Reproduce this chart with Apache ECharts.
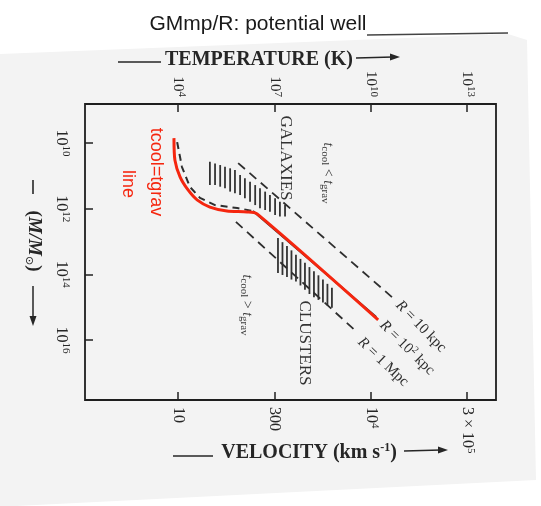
<!DOCTYPE html>
<html><head><meta charset="utf-8">
<script src="https://cdn.jsdelivr.net/npm/echarts@6/dist/echarts.min.js"></script>
<style>html,body{margin:0;padding:0;background:#fff}#c{width:541px;height:506px}</style>
</head><body><div id="c"></div>
<script>
// x = log10 T (K)  (bottom axis relabelled as velocity, T ∝ v²);  y = log10 (M / M_sun)
const tempTicks = [4, 7, 10, 13];
const tempTickLabels = ['10^4', '10^7', '10^10', '10^13'];
const velocityTickLabels = ['10', '300', '10^4', '3 × 10^5'];
const massTicks = [10, 12, 14, 16];
const massTickLabels = ['10^10', '10^12', '10^14', '10^16'];
const xRange = [1.10, 13.90];
const yRange = [8.81, 17.83];

// red annotated tcool = tgrav curve
const redCurveT = [3.87, 3.90, 4.06, 4.31, 4.59, 4.99, 5.52, 6.15, 6.46, 10.23];
const redCurveM = [9.85, 10.52, 11.03, 11.43, 11.73, 11.95, 12.07, 12.10, 12.16, 15.39];
// original dashed cooling curve
const coolCurveT = [3.97, 4.12, 4.37, 4.68, 5.15, 5.84, 6.33];
const coolCurveM = [9.97, 10.73, 11.34, 11.67, 11.89, 11.98, 12.07];
// R = 10^2 kpc (solid part under red line)
const r100T = [6.33, 10.17];
const r100M = [12.07, 15.30];
// R = 10 kpc
const r10T = [5.87, 10.76];
const r10M = [10.61, 14.78];
// R = 1 Mpc
const r1000T = [5.80, 9.57];
const r1000M = [12.40, 15.76];

// hatching: galaxies
const galaxyT = [4.99, 5.15, 5.31, 5.46, 5.62, 5.77, 5.93, 6.08, 6.24, 6.40, 6.55, 6.71, 6.86, 7.02, 7.17, 7.33];
const galaxyTop = [10.57, 10.62, 10.67, 10.72, 10.77, 10.82, 10.97, 11.07, 11.18, 11.28, 11.38, 11.48, 11.58, 11.68, 11.79, 11.89];
const galaxyBottom = [11.28, 11.28, 11.33, 11.38, 11.48, 11.53, 11.58, 11.68, 11.79, 11.89, 11.99, 12.04, 12.09, 12.19, 12.24, 12.24];
// hatching: clusters
const clusterT = [7.11, 7.25, 7.39, 7.53, 7.67, 7.81, 7.95, 8.09, 8.23, 8.37, 8.51, 8.65, 8.79];
const clusterTop = [12.89, 13.02, 13.14, 13.27, 13.40, 13.53, 13.65, 13.78, 13.91, 14.03, 14.16, 14.29, 14.41];
const clusterBottom = [13.96, 14.02, 14.08, 14.16, 14.22, 14.34, 14.47, 14.60, 14.70, 14.78, 14.86, 14.95, 15.02];

const SERIF = '"Liberation Serif","DejaVu Serif",serif';
const INK = '#262626';

function sup(label) {
  const i = label.indexOf('^');
  if (i < 0) return '{b|' + label + '}';
  return '{b|' + label.slice(0, i) + '}{s|' + label.slice(i + 1) + '}';
}
function richFor(size) {
  return {
    b: { fontFamily: SERIF, fontSize: size, color: INK, lineHeight: size + 3 },
    s: { fontFamily: SERIF, fontSize: Math.round(size * 0.7), color: INK, verticalAlign: 'top' }
  };
}
function pts(xs, ys) { return xs.map((x, i) => [x, ys[i]]); }
function hatch(xs, tops, bots) {
  return {
    type: 'custom', silent: true,
    data: xs.map((x, i) => [x, tops[i], bots[i]]),
    encode: { x: 0, y: [1, 2] },
    renderItem: (params, api) => {
      const p1 = api.coord([api.value(0), api.value(1)]);
      const p2 = api.coord([api.value(0), api.value(2)]);
      return { type: 'line', shape: { x1: p1[0], y1: p1[1], x2: p2[0], y2: p2[1] },
               style: { stroke: '#333', lineWidth: 1.8 } };
    }
  };
}
function dashed(xs, ys, dash, w) {
  return { type: 'line', data: pts(xs, ys), symbol: 'none', silent: true,
           lineStyle: { color: '#2e2e2e', width: w, type: dash } };
}

const chart = echarts.init(document.getElementById('c'), null, { renderer: 'canvas' });

const tickStyle = { show: true, inside: true, length: 8, lineStyle: { color: '#222', width: 1.5 } };

const option = {
  animation: false,
  backgroundColor: 'transparent',
  grid: { left: 85, right: 45, top: 104, bottom: 106, show: true, borderColor: '#1e1e1e', borderWidth: 1.8 },
  xAxis: [
    { type: 'value', position: 'bottom', min: xRange[0], max: xRange[1],
      axisLine: { show: false }, splitLine: { show: false },
      axisTick: Object.assign({ customValues: tempTicks }, tickStyle),
      axisLabel: { customValues: tempTicks, rotate: -90, margin: 7,
        formatter: v => sup(velocityTickLabels[tempTicks.indexOf(v)]), rich: richFor(16) } },
    { type: 'value', position: 'top', min: xRange[0], max: xRange[1],
      axisLine: { show: false }, splitLine: { show: false },
      axisTick: Object.assign({ customValues: tempTicks }, tickStyle),
      axisLabel: { customValues: tempTicks, rotate: 90, margin: 7,
        formatter: v => sup(tempTickLabels[tempTicks.indexOf(v)]), rich: richFor(15) } }
  ],
  yAxis: [
    { type: 'value', inverse: true, min: yRange[0], max: yRange[1],
      axisLine: { show: false }, splitLine: { show: false },
      axisTick: Object.assign({ customValues: massTicks }, tickStyle),
      axisLabel: { customValues: massTicks, rotate: -90, margin: 14,
        formatter: v => sup(massTickLabels[massTicks.indexOf(v)]), rich: richFor(16) } }
  ],
  series: [
    hatch(galaxyT, galaxyTop, galaxyBottom),
    hatch(clusterT, clusterTop, clusterBottom),
    dashed(r10T, r10M, [9, 6], 1.8),
    dashed(r1000T, r1000M, [9, 6], 1.8),
    dashed(coolCurveT, coolCurveM, [7, 5], 2),
    dashed(r100T, r100M, 'solid', 2),
    { type: 'line', data: pts(redCurveT, redCurveM), symbol: 'none', smooth: 0.25, silent: true,
      lineStyle: { color: '#f5260f', width: 3 } }
  ],
  graphic: [
    { type: 'polygon', z: -10, silent: true,
      shape: { points: [[0, 54], [508, 34], [527, 40], [536, 480], [16, 506], [0, 506]] },
      style: { fill: '#f3f3f3' } },
    { type: 'line', silent: true, shape: { x1: 367, y1: 35, x2: 508, y2: 33 }, style: { stroke: '#444', lineWidth: 1.5 } },
    { type: 'text', x: 258, y: 24, style: { text: 'GMmp/R: potential well', font: '21px "Liberation Sans", Arial, sans-serif',
      fill: '#1a1a1a', align: 'center', verticalAlign: 'middle', textAlign: 'center', textVerticalAlign: 'middle' } },
    // temperature title
    { type: 'text', x: 259, y: 60, style: { text: 'TEMPERATURE (K)', font: 'bold 20px ' + SERIF, fill: INK,
      align: 'center', verticalAlign: 'middle', textAlign: 'center', textVerticalAlign: 'middle' } },
    { type: 'line', shape: { x1: 118, y1: 62, x2: 161, y2: 62 }, style: { stroke: INK, lineWidth: 1.5 } },
    { type: 'line', shape: { x1: 356, y1: 58, x2: 393, y2: 57 }, style: { stroke: INK, lineWidth: 1.5 } },
    { type: 'polygon', shape: { points: [[390, 53.5], [400, 57], [390, 60.5]] }, style: { fill: INK } },
    // velocity title
    { type: 'text', x: 309, y: 453, style: { text: '{n|VELOCITY (km s}{p|-1}{n|)}', align: 'center', verticalAlign: 'middle',
      textAlign: 'center', textVerticalAlign: 'middle',
      rich: { n: { font: 'bold 20px ' + SERIF, fill: INK, lineHeight: 22 },
              p: { font: 'bold 12px ' + SERIF, fill: INK, verticalAlign: 'top' } } } },
    { type: 'line', shape: { x1: 173, y1: 456, x2: 213, y2: 456 }, style: { stroke: INK, lineWidth: 1.5 } },
    { type: 'line', shape: { x1: 404, y1: 451, x2: 441, y2: 450 }, style: { stroke: INK, lineWidth: 1.5 } },
    { type: 'polygon', shape: { points: [[438, 446.5], [448, 450], [438, 453.5]] }, style: { fill: INK } },
    // mass title (vertical)
    { type: 'text', x: 34, y: 241, rotation: -Math.PI / 2, style: { text: '{n|(}{i|M/M}{d|⊙}{n|)}',
      align: 'center', verticalAlign: 'middle', textAlign: 'center', textVerticalAlign: 'middle',
      rich: { n: { font: 'bold 19px ' + SERIF, fill: INK, lineHeight: 22 },
              i: { font: 'italic bold 19px ' + SERIF, fill: INK },
              d: { font: '11px "DejaVu Sans"', fill: INK, verticalAlign: 'bottom' } } } },
    { type: 'line', shape: { x1: 33, y1: 180, x2: 33, y2: 194 }, style: { stroke: INK, lineWidth: 1.6 } },
    { type: 'line', shape: { x1: 33, y1: 286, x2: 33, y2: 318 }, style: { stroke: INK, lineWidth: 1.5 } },
    { type: 'polygon', shape: { points: [[29.5, 316], [33, 326], [36.5, 316]] }, style: { fill: INK } },
    // in-plot labels
    { type: 'text', x: 285, y: 158, rotation: -Math.PI / 2, style: { text: 'GALAXIES', font: '17px ' + SERIF, fill: '#333',
      align: 'center', verticalAlign: 'middle', textAlign: 'center', textVerticalAlign: 'middle' } },
    { type: 'text', x: 304, y: 343, rotation: -Math.PI / 2, style: { text: 'CLUSTERS', font: '17px ' + SERIF, fill: '#333',
      align: 'center', verticalAlign: 'middle', textAlign: 'center', textVerticalAlign: 'middle' } },
    { type: 'text', x: 328, y: 173, rotation: -Math.PI / 2, style: { text: '{t|t}{u|cool}{n| < }{t|t}{u|grav}',
      align: 'center', verticalAlign: 'middle', textAlign: 'center', textVerticalAlign: 'middle',
      rich: { t: { font: 'italic 14px ' + SERIF, fill: '#3a3a3a', lineHeight: 18 },
              n: { font: '14px ' + SERIF, fill: '#3a3a3a', lineHeight: 18 },
              u: { font: '11px ' + SERIF, fill: '#3a3a3a', verticalAlign: 'bottom' } } } },
    { type: 'text', x: 247, y: 305, rotation: -Math.PI / 2, style: { text: '{t|t}{u|cool}{n| > }{t|t}{u|grav}',
      align: 'center', verticalAlign: 'middle', textAlign: 'center', textVerticalAlign: 'middle',
      rich: { t: { font: 'italic 14px ' + SERIF, fill: '#3a3a3a', lineHeight: 18 },
              n: { font: '14px ' + SERIF, fill: '#3a3a3a', lineHeight: 18 },
              u: { font: '11px ' + SERIF, fill: '#3a3a3a', verticalAlign: 'bottom' } } } },
    { type: 'text', x: 398, y: 303, rotation: -0.8, style: { text: '{i|R}{n| = 10 kpc}',
      align: 'left', verticalAlign: 'middle', textAlign: 'left', textVerticalAlign: 'middle',
      rich: { i: { font: 'italic 15px ' + SERIF, fill: '#2e2e2e' }, n: { font: '15px ' + SERIF, fill: '#2e2e2e' } } } },
    { type: 'text', x: 382, y: 323, rotation: -0.78, style: { text: '{i|R}{n| = 10}{p|2}{n| kpc}',
      align: 'left', verticalAlign: 'middle', textAlign: 'left', textVerticalAlign: 'middle',
      rich: { i: { font: 'italic 15px ' + SERIF, fill: '#2e2e2e', lineHeight: 18 }, n: { font: '15px ' + SERIF, fill: '#2e2e2e', lineHeight: 18 },
              p: { font: '10px ' + SERIF, fill: '#2e2e2e', verticalAlign: 'top' } } } },
    { type: 'text', x: 360, y: 340, rotation: -0.76, style: { text: '{i|R}{n| = 1 Mpc}',
      align: 'left', verticalAlign: 'middle', textAlign: 'left', textVerticalAlign: 'middle',
      rich: { i: { font: 'italic 15px ' + SERIF, fill: '#2e2e2e' }, n: { font: '15px ' + SERIF, fill: '#2e2e2e' } } } },
    // red annotation
    { type: 'text', x: 156, y: 172, rotation: -Math.PI / 2, style: { text: 'tcool=tgrav', font: '18px "Liberation Sans", Arial, sans-serif',
      fill: '#f5260f', align: 'center', verticalAlign: 'middle', textAlign: 'center', textVerticalAlign: 'middle' } },
    { type: 'text', x: 128, y: 184, rotation: -Math.PI / 2, style: { text: 'line', font: '18px "Liberation Sans", Arial, sans-serif',
      fill: '#f5260f', align: 'center', verticalAlign: 'middle', textAlign: 'center', textVerticalAlign: 'middle' } }
  ]
};
chart.setOption(option);
</script></body></html>
